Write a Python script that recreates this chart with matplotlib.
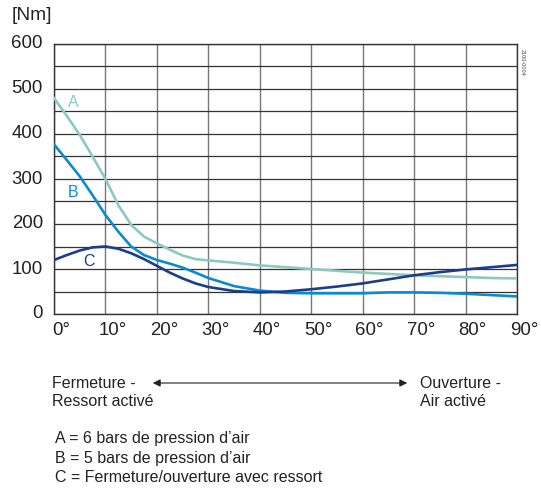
import matplotlib
matplotlib.use("Agg")
import matplotlib.pyplot as plt
from matplotlib.transforms import ScaledTranslation
import numpy as np

plt.rcParams['font.family'] = ['Liberation Sans', 'DejaVu Sans']

angle = [0, 2.5, 5, 7.5, 10, 12.5, 15, 17.5, 20, 22.5, 25, 27.5, 30, 35, 40, 45,
         50, 55, 60, 65, 70, 75, 80, 85, 90]
torque_a = [480, 440, 398, 350, 300, 242, 198, 172, 157, 143, 130, 122, 119, 114, 108, 104,
            100, 96, 92, 89, 86, 84, 82, 80, 79]
torque_b = [377, 342, 306, 264, 220, 183, 150, 131, 120, 112, 103, 92, 80, 62, 52, 47,
            46, 46, 46, 48, 48, 47, 45, 42, 39]
torque_c = [120, 131, 141, 148, 150, 145, 135, 122, 107, 92, 79, 68, 60, 51, 48, 50,
            55, 61, 68, 77, 86, 93, 99, 104, 109]

x_ticks = [0, 10, 20, 30, 40, 50, 60, 70, 80, 90]
x_labels = ["0°", "10°", "20°", "30°", "40°", "50°", "60°", "70°", "80°", "90°"]
y_ticks = [0, 100, 200, 300, 400, 500, 600]
y_labels = ["0", "100", "200", "300", "400", "500", "600"]

col_a = "#8cc9c1"
col_b = "#0a8ad2"
col_c = "#1b3d8a"

fig = plt.figure(figsize=(5.41, 4.92), dpi=100)
ax = fig.add_axes([54/541, 1-314/492, (517-54)/541, (314-44)/492])

ax.plot(angle, torque_a, color=col_a, lw=1.9, zorder=3)
ax.plot(angle, torque_b, color=col_b, lw=1.9, zorder=4)
ax.plot(angle, torque_c, color=col_c, lw=1.9, zorder=5)

ax.set_xlim(0, 90)
ax.set_ylim(0, 600)
ax.set_xticks(x_ticks)
ax.set_xticklabels(x_labels)
ax.set_yticks(y_ticks)
ax.set_yticklabels(y_labels)
ax.set_yticks(np.arange(50, 600, 100), minor=True)
ax.tick_params(axis='both', which='both', length=0, labelsize=13.4, colors='#222222')
ax.tick_params(axis='y', pad=8)
ax.tick_params(axis='x', pad=6)
for lab in ax.get_xticklabels():
    lab.set_transform(lab.get_transform() + ScaledTranslation(7/100, 0, fig.dpi_scale_trans))
for lab in ax.get_yticklabels():
    lab.set_transform(lab.get_transform() + ScaledTranslation(0, 2/100, fig.dpi_scale_trans))

ax.grid(True, axis='x', which='major', color='#777777', lw=1.0)
ax.grid(True, axis='y', which='both', color='#333333', lw=0.9)
for s in ax.spines.values():
    s.set_color('#333333')
    s.set_linewidth(1.0)

ax.text(3.7, 470, "A", color=col_a, fontsize=11.5, ha='center', va='center')
ax.text(3.8, 270, "B", color=col_b, fontsize=11.5, ha='center', va='center')
ax.text(6.9, 117, "C", color=col_c, fontsize=11.5, ha='center', va='center')

fig.text(12/541, 1-15/492, "[Nm]", fontsize=13.8, color='#222222', ha='left', va='center')
fig.text(522/541, 1-62/492, "2100-0004", fontsize=4, color='#444444', rotation=270,
         ha='center', va='center')

fs = 11.5
fig.text(52/541, 1-383/492, "Fermeture -", fontsize=fs, color='#222222', va='center')
fig.text(52/541, 1-402/492, "Ressort activé", fontsize=fs, color='#222222', va='center')
fig.text(420/541, 1-383/492, "Ouverture -", fontsize=fs, color='#222222', va='center')
fig.text(420/541, 1-402/492, "Air activé", fontsize=fs, color='#222222', va='center')
fig.add_artist(matplotlib.patches.FancyArrowPatch(
    (150/541, 1-383/492), (410/541, 1-383/492), transform=fig.transFigure,
    arrowstyle='<|-|>', mutation_scale=11, color='#222222', lw=0.8))

fig.text(55/541, 1-439/492, "A = 6 bars de pression d’air", fontsize=fs, color='#222222', va='center')
fig.text(55/541, 1-458/492, "B = 5 bars de pression d’air", fontsize=fs, color='#222222', va='center')
fig.text(55/541, 1-477/492, "C = Fermeture/ouverture avec ressort", fontsize=fs, color='#222222', va='center')

fig.savefig("out.png", dpi=100)
